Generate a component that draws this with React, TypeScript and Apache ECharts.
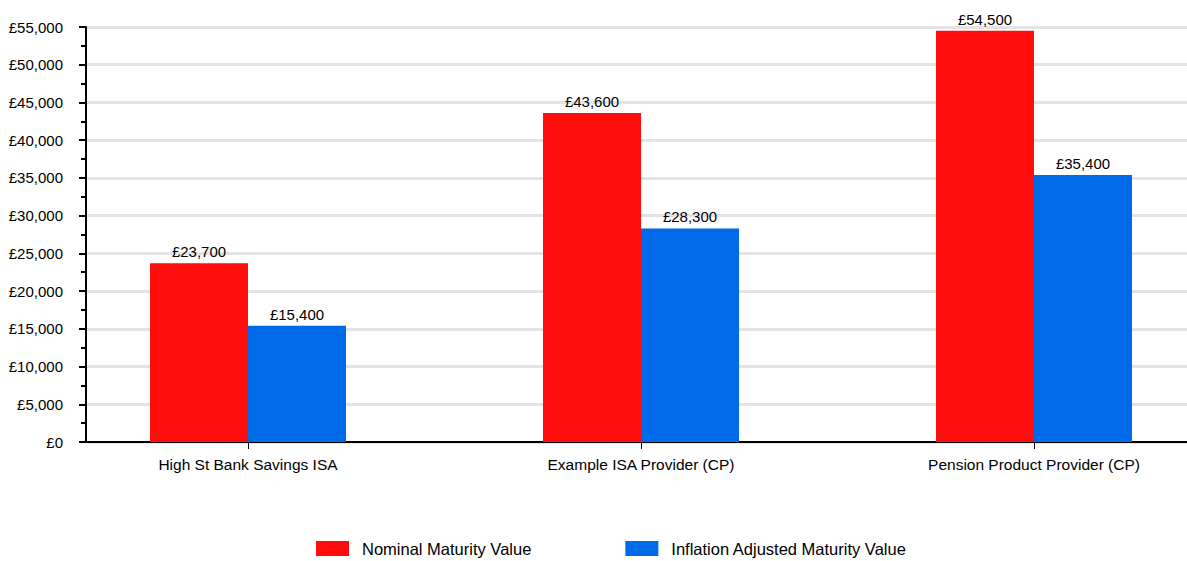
import React, { useEffect, useRef } from "react";
import * as echarts from "echarts";

const categories = [
  "High St Bank Savings ISA",
  "Example ISA Provider (CP)",
  "Pension Product Provider (CP)",
];
const nominalValues = [23700, 43600, 54500];
const inflationAdjustedValues = [15400, 28300, 35400];
const seriesNames = ["Nominal Maturity Value", "Inflation Adjusted Maturity Value"];

const FONT = "'Liberation Sans', Arial, sans-serif";
const fmt = (v: number) => "£" + Number(v).toLocaleString("en-GB");

export default function App() {
  const ref = useRef<HTMLDivElement>(null);
  useEffect(() => {
    if (!ref.current) return;
    const chart = echarts.init(ref.current, undefined, { renderer: "svg" });
    chart.setOption({
      animation: false,
      backgroundColor: "#ffffff",
      textStyle: { fontFamily: FONT },
      grid: [
        { left: 86, right: 0, top: 27, bottom: 119, containLabel: false, outerBoundsMode: "none" },
        { left: 51.5, width: 1179, top: 27, bottom: 119, containLabel: false, outerBoundsMode: "none" },
      ],
      legend: {
        left: 316,
        top: 540,
        padding: 0,
        itemWidth: 33,
        itemHeight: 15,
        itemGap: 94,
        icon: "rect",
        textStyle: { fontFamily: FONT, fontSize: 16.5, color: "#000", padding: [0, 0, 0, 8] },
        data: seriesNames,
      },
      xAxis: [
        {
          type: "category",
          gridIndex: 0,
          data: categories,
          axisLine: { show: true, lineStyle: { color: "#000", width: 2 } },
          axisTick: { show: false },
          axisLabel: { show: false },
          splitLine: { show: false },
        },
        {
          type: "category",
          gridIndex: 1,
          data: categories,
          axisLine: { show: false },
          axisTick: { show: true, alignWithLabel: true, length: 7, lineStyle: { color: "#000", width: 1 } },
          axisLabel: { fontFamily: FONT, fontSize: 15.5, color: "#000", margin: 14 },
          splitLine: { show: false },
        },
      ],
      yAxis: [
        {
          type: "value",
          gridIndex: 0,
          min: 0,
          max: 55000,
          interval: 5000,
          axisLine: { show: true, lineStyle: { color: "#000", width: 2 } },
          axisTick: { show: true, length: 7, lineStyle: { color: "#000", width: 2 } },
          minorTick: { show: true, splitNumber: 2, length: 5, lineStyle: { color: "#000", width: 2 } },
          axisLabel: { fontFamily: FONT, fontSize: 15, color: "#000", margin: 23, formatter: fmt },
          splitLine: { show: true, lineStyle: { color: "#e4e4e4", width: 3 } },
        },
        {
          type: "value",
          gridIndex: 1,
          min: 0,
          max: 55000,
          interval: 5000,
          show: false,
          splitLine: { show: false },
        },
      ],
      series: [
        {
          name: seriesNames[0],
          type: "bar",
          xAxisIndex: 1,
          yAxisIndex: 1,
          data: nominalValues,
          barWidth: 98,
          barGap: "0%",
          itemStyle: { color: "#fe0d0d" },
          label: { show: true, position: "top", distance: 4, fontFamily: FONT, fontSize: 15, color: "#000", formatter: (p: any) => fmt(p.value) },
        },
        {
          name: seriesNames[1],
          type: "bar",
          xAxisIndex: 1,
          yAxisIndex: 1,
          data: inflationAdjustedValues,
          barWidth: 98,
          barGap: "0%",
          itemStyle: { color: "#006be8" },
          label: { show: true, position: "top", distance: 4, fontFamily: FONT, fontSize: 15, color: "#000", formatter: (p: any) => fmt(p.value) },
        },
      ],
    });
    return () => chart.dispose();
  }, []);
  return (
    <div
      ref={ref}
      style={{ position: "fixed", left: 0, top: 0, width: 1187, height: 561, background: "#fff" }}
    />
  );
}
